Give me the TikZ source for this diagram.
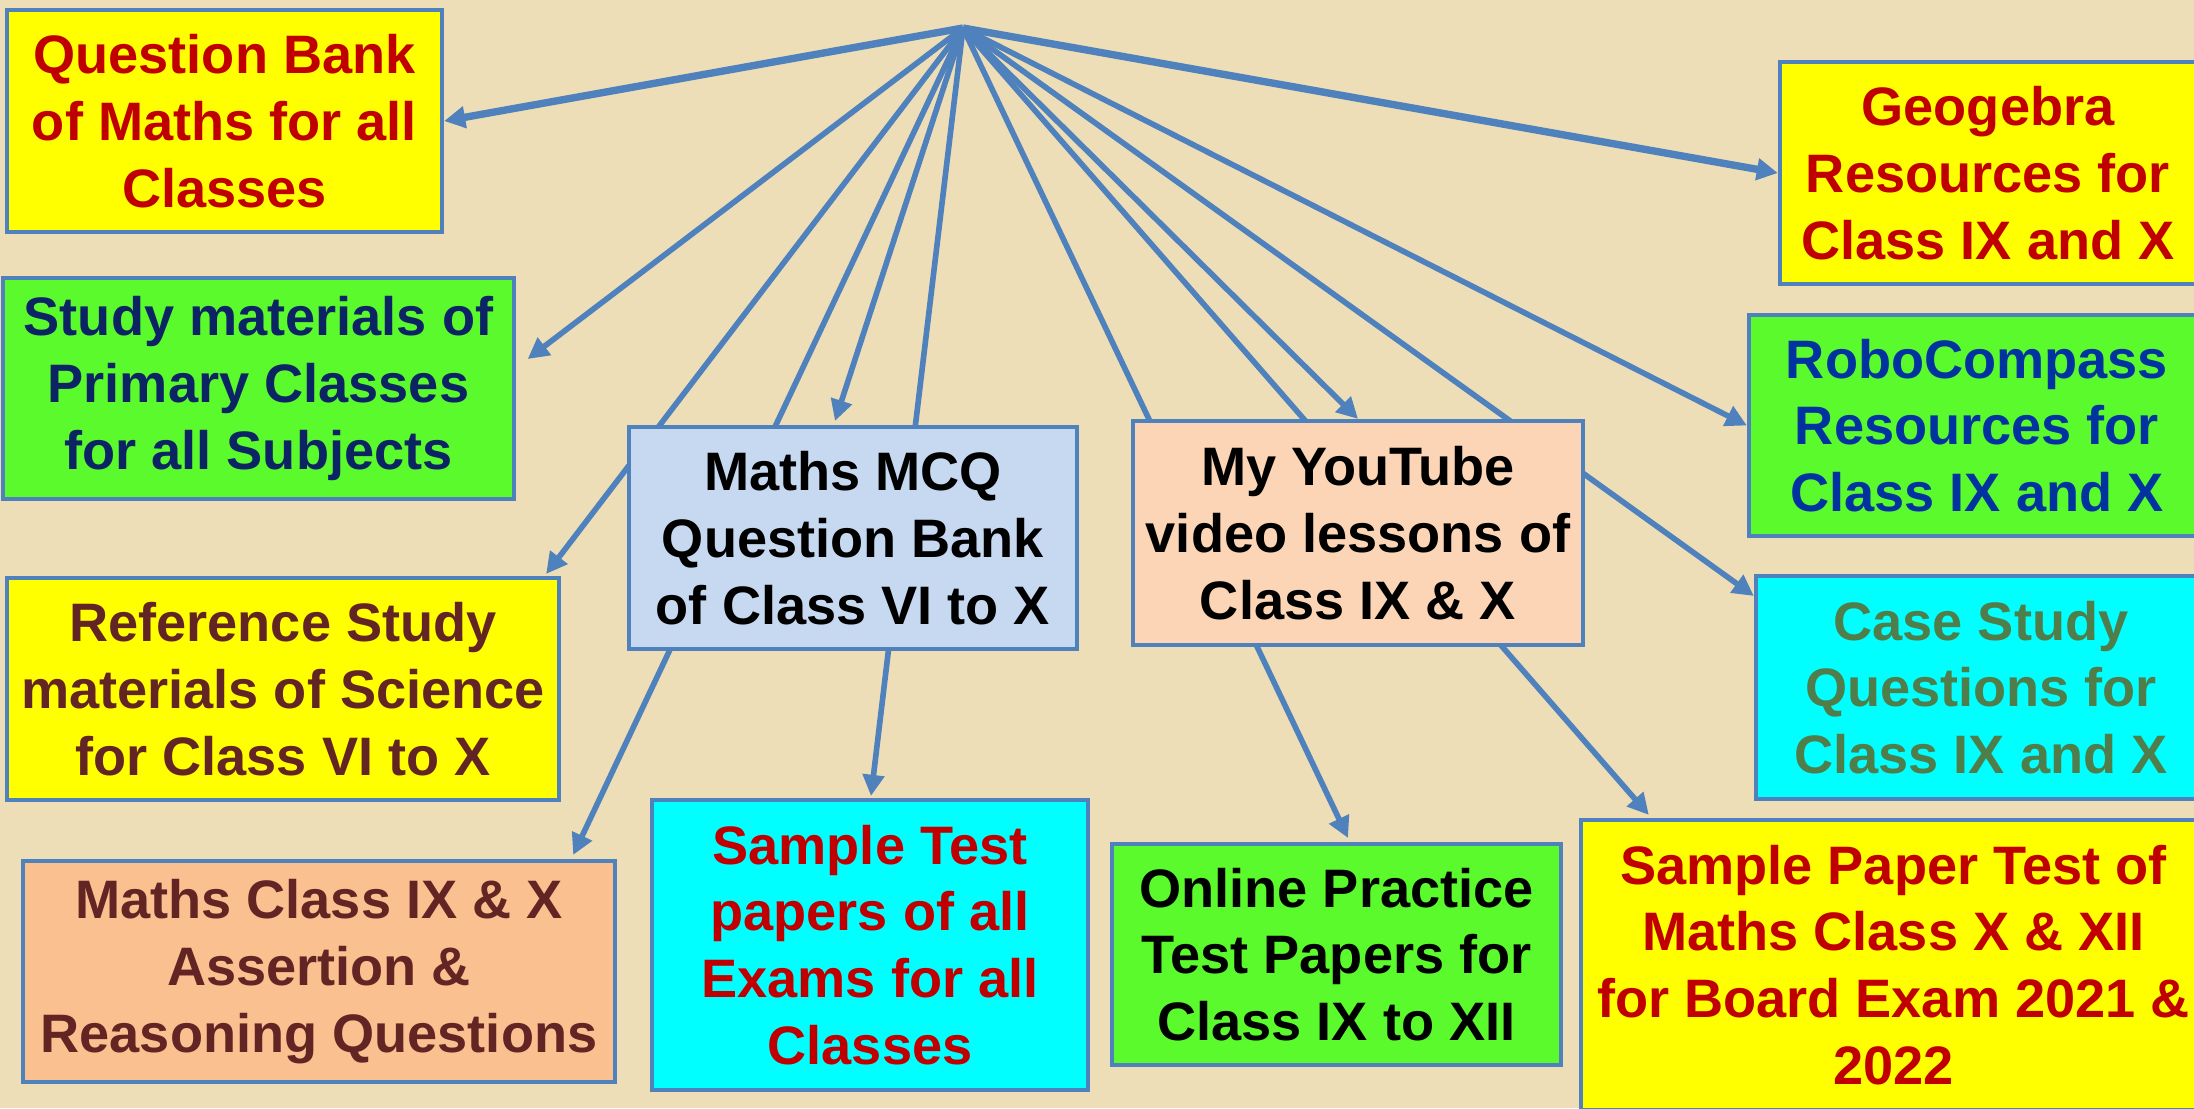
\documentclass[tikz,border=0pt]{standalone}
\usepackage{fontspec}
\setmainfont{Liberation Sans}
\usetikzlibrary{arrows.meta,calc}
\definecolor{bgcol}{RGB}{237,222,184}
\definecolor{edgecol}{RGB}{79,129,189}
\definecolor{yel}{RGB}{255,255,0}
\definecolor{grn}{RGB}{90,250,44}
\definecolor{cyn}{RGB}{0,255,255}
\definecolor{peachA}{RGB}{250,192,144}
\definecolor{peachB}{RGB}{251,213,181}
\definecolor{lblue}{RGB}{198,217,241}
\definecolor{dred}{RGB}{192,0,0}
\definecolor{navy}{RGB}{12,36,100}
\definecolor{brownc}{RGB}{99,37,35}
\definecolor{roboblue}{RGB}{0,51,160}
\definecolor{olivec}{RGB}{80,126,74}
\pgfdeclarelayer{back}
\pgfdeclarelayer{lines}
\pgfsetlayers{back,lines,main}
\tikzset{
  box/.style={rectangle, draw=edgecol, line width=1.14pt, inner sep=0pt, align=center,
    font=\fontsize{15.4pt}{19pt}\selectfont\bfseries},
  conn/.style={draw=edgecol, line width=1.6pt, -{Triangle[length=6pt,width=6pt]}},
  thickconn/.style={conn, line width=2.1pt},
}
\begin{document}
\begin{tikzpicture}[x=0.01cm,y=-0.01cm]
\useasboundingbox (0,0) rectangle (2194,1108);
\begin{pgfonlayer}{back}
\fill[bgcol] (0,0) rectangle (2194,1108);
\end{pgfonlayer}
\coordinate (hub) at (963,28);
% boxes
\node[box, fill=yel, text=dred, minimum width=4.35cm, minimum height=2.21cm] (QB) at (224.5,121)
  {Question Bank\\of Maths for all\\Classes};
\node[box, fill=grn, text=navy, minimum width=5.11cm, minimum height=2.21cm] (Study) at (258.5,388.5)
  {Study materials of\\Primary Classes\\for all Subjects};
\node[box, fill=yel, text=brownc, minimum width=5.52cm, minimum height=2.22cm] (Ref) at (283,689)
  {Reference Study\\materials of Science\\for Class VI to X};
\node[box, fill=peachA, text=brownc, minimum width=5.92cm, minimum height=2.21cm] (Assert) at (319,971.5)
  {Maths Class IX \& X\\Assertion \&\\Reasoning Questions};
\node[box, fill=lblue, text=black, minimum width=4.48cm, minimum height=2.22cm] (MCQ) at (853,538)
  {Maths MCQ\\Question Bank\\of Class VI to X};
\node[box, fill=cyn, text=dred, minimum width=4.35cm, minimum height=2.90cm] (ST) at (870,945)
  {Sample Test\\papers of all\\Exams for all\\Classes};
\node[box, fill=peachB, text=black, minimum width=4.50cm, minimum height=2.24cm] (YT) at (1358,533)
  {My YouTube\\video lessons of\\Class IX \& X};
\node[box, fill=grn, text=black, minimum width=4.48cm, minimum height=2.21cm] (Online) at (1336.5,954.5)
  {Online Practice\\Test Papers for\\Class IX to XII};
\node[box, fill=yel, text=dred, minimum width=6.25cm, minimum height=2.90cm] (SP) at (1893.5,965)
  {Sample Paper Test of\\Maths Class X \& XII\\for Board Exam 2021 \&\\2022};
\node[box, fill=yel, text=dred, minimum width=4.16cm, minimum height=2.22cm] (Geo) at (1988,173)
  {Geogebra\\Resources for\\Class IX and X};
\node[box, fill=grn, text=roboblue, minimum width=4.56cm, minimum height=2.21cm] (Robo) at (1977,425.5)
  {RoboCompass\\Resources for\\Class IX and X};
\node[box, fill=cyn, text=olivec, minimum width=4.50cm, minimum height=2.23cm] (CS) at (1981,687.5)
  {Case Study\\Questions for\\Class IX and X};
% connectors
\begin{pgfonlayer}{lines}
\draw[thickconn] (hub) -- (QB.east);
\draw[thickconn] (hub) -- (Geo.west);
\draw[conn] (hub) -- ($(Study.east)+(11.5,-29.5)$);
\draw[conn] (hub) -- ($(Ref.north east)+(-15,-2)$);
\draw[conn] (hub) -- ($(Assert.north east)+(-44,-4)$);
\draw[conn] (hub) -- ($(MCQ.north)+(-18,-4)$);
\draw[conn] (hub) -- ($(ST.north)+(1,-2)$);
\draw[conn] (hub) -- (Robo.west);
\draw[conn] (hub) -- ($(CS.north west)+(0,22)$);
\draw[conn] (hub) -- (YT.north);
\draw[conn] (hub) -- ($(SP.north west)+(70,-3)$);
\draw[conn] (hub) -- ($(Online.north)+(11.5,-4)$);
\end{pgfonlayer}
\end{tikzpicture}
\end{document}
